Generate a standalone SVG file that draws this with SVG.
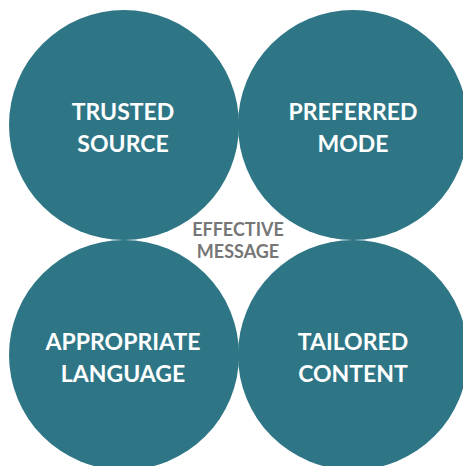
<svg xmlns="http://www.w3.org/2000/svg" width="463" height="466" viewBox="0 0 463 466">
<style>
.c{fill:#2E7686}
.t{font-family:Lato,"Open Sans","Liberation Sans",sans-serif;font-weight:bold;font-size:23px;fill:#fff;text-anchor:middle}
.m{font-family:Lato,"Open Sans","Liberation Sans",sans-serif;font-weight:bold;font-size:18px;fill:#767676;text-anchor:middle}
</style>
<rect width="463" height="466" fill="#fff"/>
<g id="trusted-source"><circle class="c" cx="124" cy="125" r="115"/><text class="t" x="123" y="120">TRUSTED</text><text class="t" x="123" y="152">SOURCE</text></g>
<g id="preferred-mode"><circle class="c" cx="353" cy="125" r="115"/><text class="t" x="353" y="120">PREFERRED</text><text class="t" x="353" y="152">MODE</text></g>
<g id="appropriate-language"><circle class="c" cx="124" cy="355" r="115"/><text class="t" x="123" y="350">APPROPRIATE</text><text class="t" x="123" y="382">LANGUAGE</text></g>
<g id="tailored-content"><circle class="c" cx="353" cy="355" r="115"/><text class="t" x="353" y="350">TAILORED</text><text class="t" x="353" y="382">CONTENT</text></g>
<g id="effective-message"><text class="m" x="238" y="236">EFFECTIVE</text><text class="m" x="238" y="258">MESSAGE</text></g>
<g id="connectors"/>
</svg>
